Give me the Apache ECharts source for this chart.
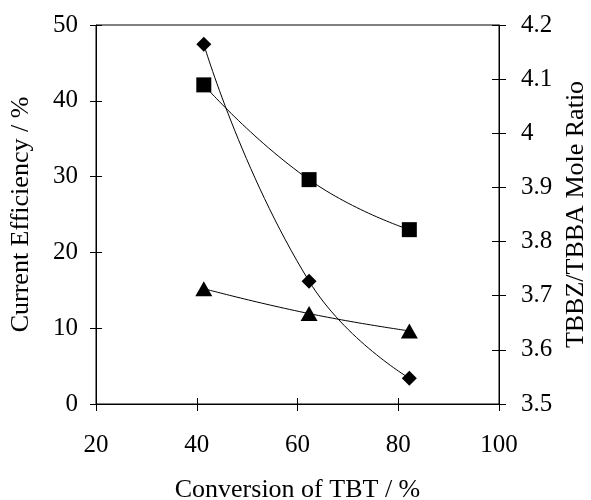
<!DOCTYPE html>
<html>
<head>
<meta charset="utf-8">
<script src="https://cdn.jsdelivr.net/npm/echarts@6/dist/echarts.min.js"></script>
<style>html,body{margin:0;padding:0;background:#fff;}#c{width:591px;height:500px;}</style>
</head>
<body>
<div id="c"></div>
<script>
// Data
const conversion = [41.4, 62.3, 82.2];
const squareEfficiency = [42.1, 29.6, 23.0];
const diamondEfficiency = [47.45, 16.2, 3.4];
const triangleMoleRatio = [3.713, 3.667, 3.635];

const xTicks = [20, 40, 60, 80, 100];
const leftTicks = [0, 10, 20, 30, 40, 50];
const rightTicks = [3.5, 3.6, 3.7, 3.8, 3.9, 4.0, 4.1, 4.2];

const FONT = 'Liberation Serif';
const pairs = (xs, ys) => xs.map((x, i) => [x, ys[i]]);

const chart = echarts.init(document.getElementById('c'), null, {renderer: 'canvas'});
const tickStyle = {color: '#000', width: 1};
chart.setOption({
  backgroundColor: '#fff',
  animation: false,
  grid: {left: 96, right: 92, top: 25, bottom: 96, containLabel: false, outerBoundsMode: 'none',
    show: true, borderColor: '#000', borderWidth: 1, backgroundColor: 'transparent'},
  xAxis: [{
    type: 'value', min: xTicks[0], max: xTicks[xTicks.length - 1], interval: 20, position: 'bottom',
    name: 'Conversion of TBT / %', nameLocation: 'middle', nameGap: 73,
    nameTextStyle: {fontFamily: FONT, fontSize: 26, color: '#000'},
    axisLine: {show: true, lineStyle: {color: '#000', width: 1}},
    axisTick: {show: true, inside: false, length: 7, lineStyle: tickStyle},
    axisLabel: {fontFamily: FONT, fontSize: 25, color: '#000', margin: 29},
    splitLine: {show: false}
  }, {
    type: 'value', min: xTicks[0], max: xTicks[xTicks.length - 1], interval: 20, position: 'bottom',
    axisLine: {show: false}, axisLabel: {show: false},
    axisTick: {show: true, inside: true, length: 6, lineStyle: tickStyle},
    splitLine: {show: false}
  }],
  yAxis: [{
    type: 'value', min: leftTicks[0], max: leftTicks[leftTicks.length - 1], interval: 10, position: 'left',
    name: 'Current Efficiency / %', nameLocation: 'middle', nameGap: 62, nameRotate: 90,
    nameTextStyle: {fontFamily: FONT, fontSize: 26, color: '#000'},
    axisLine: {show: true, lineStyle: {color: '#000', width: 1}},
    axisTick: {show: true, inside: false, length: 6, lineStyle: tickStyle},
    axisLabel: {fontFamily: FONT, fontSize: 25, color: '#000', margin: 18},
    splitLine: {show: false}
  }, {
    type: 'value', min: rightTicks[0], max: rightTicks[rightTicks.length - 1], interval: 0.1, position: 'right',
    name: 'TBBZ/TBBA Mole Ratio', nameLocation: 'middle', nameGap: 64, nameRotate: 90,
    nameTextStyle: {fontFamily: FONT, fontSize: 26, color: '#000'},
    axisLine: {show: true, lineStyle: {color: '#000', width: 1}},
    axisTick: {show: true, inside: false, length: 7, lineStyle: tickStyle},
    axisLabel: {fontFamily: FONT, fontSize: 25, color: '#000', margin: 22,
      formatter: v => String(Math.round(v * 10) / 10)},
    splitLine: {show: false}
  }, {
    type: 'value', min: leftTicks[0], max: leftTicks[leftTicks.length - 1], interval: 10, position: 'left', offset: 0,
    axisLine: {show: false}, axisLabel: {show: false},
    axisTick: {show: true, inside: true, length: 6, lineStyle: tickStyle},
    splitLine: {show: false}
  }, {
    type: 'value', min: rightTicks[0], max: rightTicks[rightTicks.length - 1], interval: 0.1, position: 'right', offset: 0,
    axisLine: {show: false}, axisLabel: {show: false},
    axisTick: {show: true, inside: true, length: 7, lineStyle: tickStyle},
    splitLine: {show: false}
  }],
  series: [{
    type: 'line', xAxisIndex: 0, yAxisIndex: 0, smooth: true,
    data: pairs(conversion, squareEfficiency),
    symbol: 'rect', symbolSize: 15,
    itemStyle: {color: '#000'}, lineStyle: {color: '#000', width: 1}
  }, {
    type: 'line', xAxisIndex: 0, yAxisIndex: 0, smooth: true,
    data: pairs(conversion, diamondEfficiency),
    symbol: 'diamond', symbolSize: [15, 15],
    itemStyle: {color: '#000'}, lineStyle: {color: '#000', width: 1}
  }, {
    type: 'line', xAxisIndex: 0, yAxisIndex: 1, smooth: true,
    data: pairs(conversion, triangleMoleRatio),
    symbol: 'triangle', symbolSize: [17, 15],
    itemStyle: {color: '#000'}, lineStyle: {color: '#000', width: 1}
  }]
});
</script>
</body>
</html>
